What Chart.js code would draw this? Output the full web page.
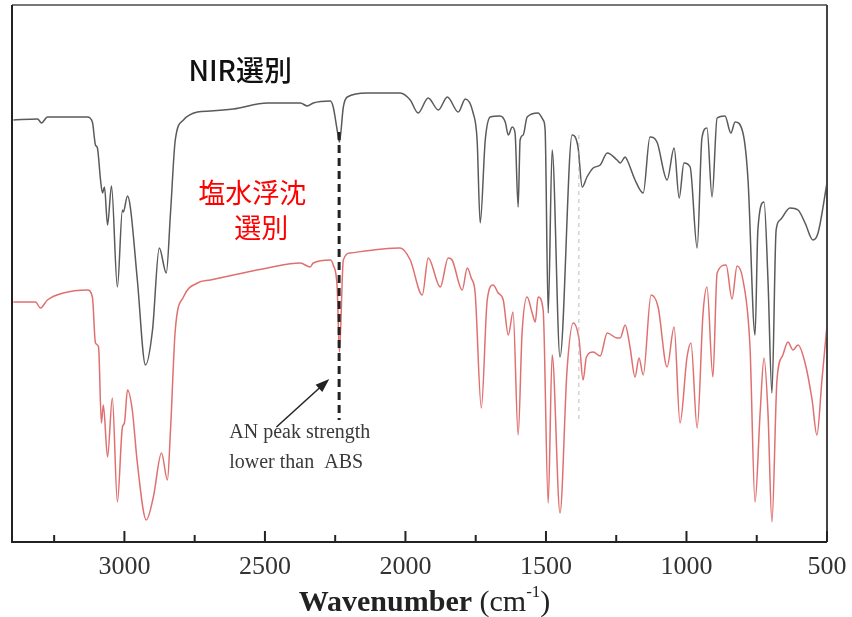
<!DOCTYPE html>
<html>
<head>
<meta charset="utf-8">
<script src="https://cdn.jsdelivr.net/npm/chart.js@4.4.1/dist/chart.umd.min.js"></script>
<style>
  html, body { margin: 0; padding: 0; background: #fff; }
  #wrap { width: 852px; height: 617px; position: relative; }
</style>
</head>
<body>
<div id="wrap"><canvas id="c" width="852" height="617"></canvas></div>
<script>
// ---- data (wavenumber in cm^-1, transmittance in arbitrary units) ----
const wavenumberTicks = [3000, 2500, 2000, 1500, 1000, 500];
const minorTicks = [3250, 2750, 2250, 1750, 1250, 750];

const nirX = [3395,3309,3295,3274,3132,3114,3103,3096,3085,3078,3071,3060,3046,3025,3007,3004,2989,2979,2954,2925,2900,2876,2851,2836,2819,2790,2740,2694,2612,2491,2374,2349,2328,2267,2257,2243,2235,2221,2207,2136,2019,1983,1955,1919,1883,1851,1812,1787,1759,1745,1734,1716,1698,1663,1645,1634,1620,1610,1599,1592,1581,1567,1528,1510,1503,1492,1478,1450,1407,1386,1371,1354,1332,1307,1282,1247,1236,1218,1211,1183,1154,1130,1105,1069,1044,1026,1009,987,962,945,927,909,891,863,842,827,799,781,756,746,724,710,696,681,667,632,603,578,550,532,500];
const nirY = [422,423,419,425,425,420,397,394,362,349,355,317,356,255,332,330,346,335,262,177,212,294,269,329,402,422,430,431,433,439,439,436,439,441,435,412,400,435,445,449,449,442,429,444,432,445,430,443,429,402,319,402,425,426,420,407,415,409,335,402,407,425,429,422,412,229,392,185,407,395,355,365,374,377,389,382,379,385,382,362,349,405,400,362,394,344,379,375,294,404,414,345,424,426,409,420,409,362,207,312,340,262,149,312,322,334,332,319,302,309,359];

const brineX = [3395,3316,3299,3274,3217,3132,3114,3103,3092,3082,3075,3060,3043,3025,3007,3000,2989,2972,2954,2922,2897,2868,2847,2836,2819,2790,2740,2694,2612,2491,2374,2339,2328,2267,2257,2243,2235,2221,2196,2019,1983,1940,1919,1876,1848,1834,1798,1780,1766,1752,1730,1709,1688,1670,1652,1634,1617,1599,1585,1567,1549,1538,1528,1510,1492,1478,1450,1425,1403,1382,1368,1356,1332,1307,1282,1247,1236,1218,1201,1183,1169,1154,1126,1101,1069,1044,1023,998,984,962,941,927,906,891,859,838,820,799,774,756,738,724,710,696,678,657,639,621,603,578,553,536,518,500];
const brineY = [240,240,234,242,249,252,245,199,195,119,137,85,144,40,115,119,152,132,79,22,45,89,62,112,212,245,259,262,267,274,279,275,279,282,277,255,190,282,289,294,282,247,284,255,284,282,252,274,264,249,134,242,257,249,242,207,230,107,209,245,229,220,245,232,39,187,29,172,219,202,162,185,190,186,209,204,204,217,195,165,184,167,247,235,175,215,119,185,199,114,229,255,165,269,277,243,276,262,195,40,129,184,129,20,162,187,200,192,197,179,142,107,162,217];

const seriesLabels = ['NIR選別', '塩水浮沈選別'];
const nitrilePeak = 2236;
const faintLine = 1383;

const zip = (xs, ys) => xs.map((x, i) => ({ x: x, y: ys[i] }));

const SERIF = "'Liberation Serif', 'Times New Roman', serif";
const CJK = "'Noto Sans CJK JP', 'Noto Sans', sans-serif";

const decor = {
  id: 'decor',
  afterDraw(chart) {
    const { ctx, chartArea: a, scales: { x, y } } = chart;
    ctx.save();
    // dashed marker lines
    ctx.setLineDash([4, 4]);
    ctx.strokeStyle = 'rgba(170,170,170,0.8)';
    ctx.lineWidth = 1;
    ctx.beginPath();
    ctx.moveTo(x.getPixelForValue(faintLine), y.getPixelForValue(407));
    ctx.lineTo(x.getPixelForValue(faintLine), y.getPixelForValue(122));
    ctx.stroke();
    ctx.setLineDash([8, 5]);
    ctx.strokeStyle = '#222';
    ctx.lineWidth = 3;
    ctx.beginPath();
    ctx.moveTo(x.getPixelForValue(nitrilePeak), y.getPixelForValue(410));
    ctx.lineTo(x.getPixelForValue(nitrilePeak), y.getPixelForValue(122));
    ctx.stroke();
    ctx.setLineDash([]);

    // arrow
    const x0 = x.getPixelForValue(2459), y0 = y.getPixelForValue(115);
    const x1 = x.getPixelForValue(2271), y1 = y.getPixelForValue(163);
    ctx.strokeStyle = '#222';
    ctx.fillStyle = '#222';
    ctx.lineWidth = 1.5;
    const ang = Math.atan2(y1 - y0, x1 - x0);
    ctx.beginPath();
    ctx.moveTo(x0, y0);
    ctx.lineTo(x1 - 10 * Math.cos(ang), y1 - 10 * Math.sin(ang));
    ctx.stroke();
    ctx.beginPath();
    ctx.moveTo(x1, y1);
    ctx.lineTo(x1 - 14 * Math.cos(ang) + 5 * Math.sin(ang), y1 - 14 * Math.sin(ang) - 5 * Math.cos(ang));
    ctx.lineTo(x1 - 14 * Math.cos(ang) - 5 * Math.sin(ang), y1 - 14 * Math.sin(ang) + 5 * Math.cos(ang));
    ctx.closePath();
    ctx.fill();

    // frame
    ctx.lineWidth = 2;
    ctx.strokeStyle = '#777';
    ctx.beginPath();
    ctx.moveTo(a.left, a.top); ctx.lineTo(a.right, a.top);
    ctx.stroke();
    ctx.strokeStyle = '#444';
    ctx.beginPath();
    ctx.moveTo(a.right, a.top); ctx.lineTo(a.right, a.bottom);
    ctx.stroke();
    ctx.strokeStyle = '#222';
    ctx.beginPath();
    ctx.moveTo(a.left, a.top); ctx.lineTo(a.left, a.bottom); ctx.lineTo(a.right, a.bottom);
    ctx.stroke();

    // inward ticks
    ctx.lineWidth = 2;
    wavenumberTicks.forEach(v => {
      const px = x.getPixelForValue(v);
      ctx.beginPath(); ctx.moveTo(px, a.bottom); ctx.lineTo(px, a.bottom - 11); ctx.stroke();
    });
    minorTicks.forEach(v => {
      const px = x.getPixelForValue(v);
      ctx.beginPath(); ctx.moveTo(px, a.bottom); ctx.lineTo(px, a.bottom - 7); ctx.stroke();
    });

    // annotation text
    ctx.fillStyle = '#3a3a3a';
    ctx.font = '20px ' + SERIF;
    ctx.textAlign = 'left';
    ctx.textBaseline = 'middle';
    ctx.fillText('AN peak strength', x.getPixelForValue(2627), y.getPixelForValue(109));
    ctx.fillText('lower than  ABS', x.getPixelForValue(2627), y.getPixelForValue(79));

    // series labels
    ctx.textAlign = 'center';
    ctx.font = '500 28px ' + CJK;
    ctx.fillStyle = '#111';
    ctx.fillText(seriesLabels[0], x.getPixelForValue(2588), y.getPixelForValue(472));
    ctx.fillStyle = '#ff0000';
    ctx.font = '27px ' + CJK;
    ctx.fillText('塩水浮沈', x.getPixelForValue(2545), y.getPixelForValue(349));
    ctx.fillText('選別', x.getPixelForValue(2513), y.getPixelForValue(314));

    // axis title
    ctx.fillStyle = '#222';
    ctx.textAlign = 'left';
    ctx.textBaseline = 'alphabetic';
    const tb = 611;
    ctx.font = 'bold 30px ' + SERIF;
    const w1 = ctx.measureText('Wavenumber').width;
    ctx.font = '30px ' + SERIF;
    const w2 = ctx.measureText(' (cm').width;
    ctx.font = '17px ' + SERIF;
    const w3 = ctx.measureText('-1').width;
    ctx.font = '30px ' + SERIF;
    const w4 = ctx.measureText(')').width;
    let tx = (a.left + a.right) / 2 - (w1 + w2 + w3 + w4) / 2 + 5;
    ctx.font = 'bold 30px ' + SERIF;
    ctx.fillText('Wavenumber', tx, tb); tx += w1;
    ctx.font = '30px ' + SERIF;
    ctx.fillText(' (cm', tx, tb); tx += w2;
    ctx.font = '17px ' + SERIF;
    ctx.fillText('-1', tx, tb - 14); tx += w3;
    ctx.font = '30px ' + SERIF;
    ctx.fillText(')', tx, tb);
    ctx.restore();
  }
};

new Chart(document.getElementById('c'), {
  type: 'line',
  data: {
    datasets: [
      {
        label: seriesLabels[0],
        data: zip(nirX, nirY),
        borderColor: '#5a5a5a',
        borderWidth: 1.5,
        pointRadius: 0,
        cubicInterpolationMode: 'monotone',
        fill: false
      },
      {
        label: seriesLabels[1],
        data: zip(brineX, brineY),
        borderColor: '#e07070',
        borderWidth: 1.5,
        pointRadius: 0,
        cubicInterpolationMode: 'monotone',
        fill: false
      }
    ]
  },
  options: {
    responsive: false,
    animation: false,
    layout: { padding: { left: 12, right: 25, top: 5, bottom: 0 } },
    plugins: { legend: { display: false }, tooltip: { enabled: false }, title: { display: false } },
    scales: {
      x: {
        type: 'linear',
        reverse: true,
        min: 500,
        max: 3400,
        grid: { display: false, drawTicks: false },
        border: { display: false },
        afterBuildTicks: (s) => { s.ticks = wavenumberTicks.map(v => ({ value: v })); },
        afterFit: (s) => { s.height = 75; s.paddingLeft = 0; s.paddingRight = 0; },
        ticks: {
          autoSkip: false,
          maxRotation: 0,
          padding: 10,
          color: '#333',
          font: { family: SERIF, size: 26 },
          callback: (v) => String(v)
        }
      },
      y: {
        display: false,
        min: 0,
        max: 537
      }
    }
  },
  plugins: [decor]
});
</script>
</body>
</html>
